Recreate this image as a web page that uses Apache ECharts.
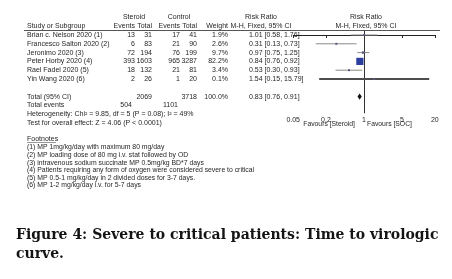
<!DOCTYPE html>
<html>
<head>
<meta charset="utf-8">
<script src="https://cdn.jsdelivr.net/npm/echarts@6/dist/echarts.min.js"></script>
<style>
  html, body { margin: 0; padding: 0; background: #fff; }
  #chart { width: 452px; height: 279px; }
</style>
</head>
<body>
<div id="chart"></div>
<script>
// study data
const studies = ['Brian c. Nelson 2020 (1)', 'Francesco Salton 2020 (2)', 'Jeronimo 2020 (3)',
  'Peter Horby 2020 (4)', 'Rael Fadel 2020 (5)', 'Yin Wang 2020 (6)']
const steroidEvents = [13, 6, 72, 393, 18, 2]
const steroidTotal = [31, 83, 194, 1603, 132, 26]
const controlEvents = [17, 21, 76, 965, 21, 1]
const controlTotal = [41, 90, 199, 3287, 81, 20]
const weights = [1.9, 2.6, 9.7, 82.2, 3.4, 0.1]
const riskRatio = [1.01, 0.31, 0.97, 0.84, 0.53, 1.54]
const ciLow = [0.58, 0.13, 0.75, 0.76, 0.30, 0.15]
const ciHigh = [1.76, 0.73, 1.25, 0.92, 0.93, 15.79]

const total = { rr: 0.83, lo: 0.76, hi: 0.91, steroidN: 2069, controlN: 3718, steroidEv: 504, controlEv: 1101 }
const heterogeneity = 'Heterogeneity: Chi² = 9.85, df = 5 (P = 0.08); I² = 49%'
const overallTest = 'Test for overall effect: Z = 4.06 (P < 0.0001)'
const tickValues = [0.05, 0.2, 1, 5, 20]

const footnotes = [
  '(1) MP 1mg/kg/day with maximum 80 mg/day',
  '(2) MP loading dose of 80 mg i.v. stat followed by OD',
  '(3) intravenous sodium succinate MP 0.5mg/kg BD*7 days',
  '(4) Patients requiring any form of oxygen were considered severe to critical',
  '(5) MP 0.5-1 mg/kg/day in 2 divided doses for 3-7 days.',
  '(6) MP 1-2 mg/kg/day i.v. for 5-7 days'
]
const caption = ['Figure 4: Severe to critical patients: Time to virologic', 'curve.']

// layout
const FONT = '7px "Liberation Sans", Arial, sans-serif'
const TXT = '#262626'
const col = { name: 27, sEv: 135, sTot: 152, cEv: 180, cTot: 197, weight: 228, rr: 249, rrHead: 261 }
const fmt = v => v.toFixed(2)
const ciText = (r, l, h) => `${fmt(r)} [${fmt(l)}, ${fmt(h)}]`

// table rows, indexed on the same row axis as the plot
const tableRows = [
  { row: -2, cells: [['Steroid', 134, 'center'], ['Control', 179, 'center'], ['Risk Ratio', col.rrHead, 'center']] },
  { row: -1, cells: [['Study or Subgroup', col.name, 'left'], ['Events', col.sEv, 'right'], ['Total', col.sTot, 'right'],
    ['Events', col.cEv, 'right'], ['Total', col.cTot, 'right'], ['Weight', col.weight, 'right'],
    ['M-H, Fixed, 95% CI', col.rrHead, 'center']] }
]
studies.forEach((s, i) => {
  tableRows.push({ row: i, cells: [
    [s, col.name, 'left'],
    [String(steroidEvents[i]), col.sEv, 'right'], [String(steroidTotal[i]), col.sTot, 'right'],
    [String(controlEvents[i]), col.cEv, 'right'], [String(controlTotal[i]), col.cTot, 'right'],
    [weights[i].toFixed(1) + '%', col.weight, 'right'],
    [ciText(riskRatio[i], ciLow[i], ciHigh[i]), col.rr, 'left']
  ] })
})
tableRows.push({ row: 7, cells: [['Total (95% CI)', col.name, 'left'], [String(total.steroidN), col.sTot, 'right'],
  [String(total.controlN), col.cTot, 'right'], ['100.0%', col.weight, 'right'],
  [ciText(total.rr, total.lo, total.hi), col.rr, 'left']] })
tableRows.push({ row: 8, cells: [['Total events', col.name, 'left'], [String(total.steroidEv), col.sEv - 3, 'right'],
  [String(total.controlEv), col.cEv - 2, 'right']] })
tableRows.push({ row: 9, cells: [[heterogeneity, col.name, 'left']] })
tableRows.push({ row: 10, cells: [[overallTest, col.name, 'left']] })

const txt = (text, x, y, align, font, fill) => ({
  type: 'text', x: x, y: y,
  style: { text: text, fill: fill || TXT, font: font || FONT, textAlign: align, align: align,
    textVerticalAlign: 'middle', verticalAlign: 'middle' }
})

const maxW = Math.max(...weights)

const chart = echarts.init(document.getElementById('chart'))
chart.setOption({
  animation: false,
  backgroundColor: '#fff',
  grid: [
    { left: 293.2, width: 141.6, top: 30.6, height: 82.7 },
    { left: 0, width: 452, top: 30.6, height: 82.7 }
  ],
  xAxis: [
    {
      type: 'log', gridIndex: 0, min: 0.05, max: 20, logBase: 10,
      axisLine: { lineStyle: { color: '#222', width: 1 } },
      axisTick: { show: true, length: 3, lineStyle: { color: '#222' }, customValues: tickValues },
      axisLabel: { color: TXT, fontSize: 7, fontFamily: 'Liberation Sans', margin: 3, customValues: tickValues,
        formatter: v => String(+v.toPrecision(3)) },
      splitLine: { show: false }
    },
    { type: 'value', gridIndex: 1, min: 0, max: 452, show: false }
  ],
  yAxis: [
    { type: 'value', gridIndex: 0, inverse: true, min: -0.5, max: 8.9, show: false },
    { type: 'value', gridIndex: 1, inverse: true, min: -0.5, max: 8.9, show: false }
  ],
  series: [
    {
      // line of no effect at RR = 1
      type: 'custom', xAxisIndex: 0, yAxisIndex: 0,
      data: [[1, -0.5, 8.9]],
      encode: { x: 0, y: [1, 2] },
      renderItem: (params, api) => {
        const a = api.coord([api.value(0), api.value(1)])
        const b = api.coord([api.value(0), api.value(2)])
        return { type: 'line', shape: { x1: Math.round(a[0]) + 0.5, y1: a[1], x2: Math.round(b[0]) + 0.5, y2: b[1] },
          style: { stroke: '#333', lineWidth: 1 } }
      }
    },
    {
      // study confidence intervals and weighted boxes
      type: 'custom', xAxisIndex: 0, yAxisIndex: 0,
      data: studies.map((s, i) => [riskRatio[i], ciLow[i], ciHigh[i], weights[i], i]),
      encode: { x: [0, 1, 2], y: 4 },
      renderItem: (params, api) => {
        const r = api.value(4)
        const p = api.coord([api.value(0), r])
        const a = api.coord([api.value(1), r])
        const b = api.coord([api.value(2), r])
        const side = Math.max(2, 7.2 * Math.sqrt(api.value(3) / maxW))
        const wide = params.dataIndex === 5  // the widest interval is drawn heavier in the source
        return { type: 'group', children: [
          { type: 'line', shape: { x1: a[0], y1: a[1], x2: b[0], y2: b[1] },
            style: { stroke: wide ? '#4d4d4d' : '#8a8a8a', lineWidth: wide ? 2 : 1 } },
          { type: 'rect', shape: { x: p[0] - side / 2, y: p[1] - side / 2, width: side, height: side },
            style: { fill: side > 3 ? '#2c3f9f' : '#555a80' } }
        ] }
      }
    },
    {
      // pooled diamond
      type: 'custom', xAxisIndex: 0, yAxisIndex: 0,
      data: [[total.rr, total.lo, total.hi, 7]],
      encode: { x: [0, 1, 2], y: 3 },
      renderItem: (params, api) => {
        const r = api.value(3)
        const c = api.coord([api.value(0), r])
        const a = api.coord([api.value(1), r])
        const b = api.coord([api.value(2), r])
        return { type: 'polygon', shape: { points: [[a[0], c[1]], [c[0], c[1] - 3.2], [b[0], c[1]], [c[0], c[1] + 3.2]] },
          style: { fill: '#111' } }
      }
    },
    {
      // favours labels under the axis
      type: 'custom', xAxisIndex: 0, yAxisIndex: 0,
      data: [[1, 10.1]],
      encode: { x: 0, y: 1 },
      renderItem: (params, api) => {
        const c = api.coord([api.value(0), api.value(1)])
        return { type: 'group', children: [
          txt('Favours [Steroid]', c[0] - 9, c[1], 'right', '6.8px "Liberation Sans", Arial, sans-serif'),
          txt('Favours [SOC]', c[0] + 3, c[1], 'left', '6.8px "Liberation Sans", Arial, sans-serif')
        ] }
      }
    },
    {
      // table text
      type: 'custom', xAxisIndex: 1, yAxisIndex: 1,
      data: tableRows.map(t => [0, t.row]),
      encode: { x: 0, y: 1 },
      renderItem: (params, api) => {
        const y = api.coord([0, api.value(1)])[1]
        const row = tableRows[params.dataIndex]
        const children = row.cells.map(c => txt(c[0], c[1], y, c[2]))
        if (row.row === -2) children.push(txt('Risk Ratio', 366, y, 'center'))
        if (row.row === -1) children.push(txt('M-H, Fixed, 95% CI', 366, y, 'center'))
        return { type: 'group', children: children }
      }
    }
  ],
  graphic: [
    { type: 'line', shape: { x1: 24, y1: 30.5, x2: 440, y2: 30.5 }, style: { stroke: '#555', lineWidth: 1 } },
    txt('Footnotes', 27, 139, 'left'),
    { type: 'line', shape: { x1: 27, y1: 142.5, x2: 56, y2: 142.5 }, style: { stroke: '#555', lineWidth: 0.6 } },
    ...footnotes.map((f, i) => txt(f, 27, 147.5 + i * 7.6, 'left', '6.85px "Liberation Sans", Arial, sans-serif')),
    ...caption.map((c, i) => txt(c, 16, 235 + i * 19, 'left', 'bold 14px "DejaVu Serif", serif', '#141414'))
  ]
})
</script>
</body>
</html>
